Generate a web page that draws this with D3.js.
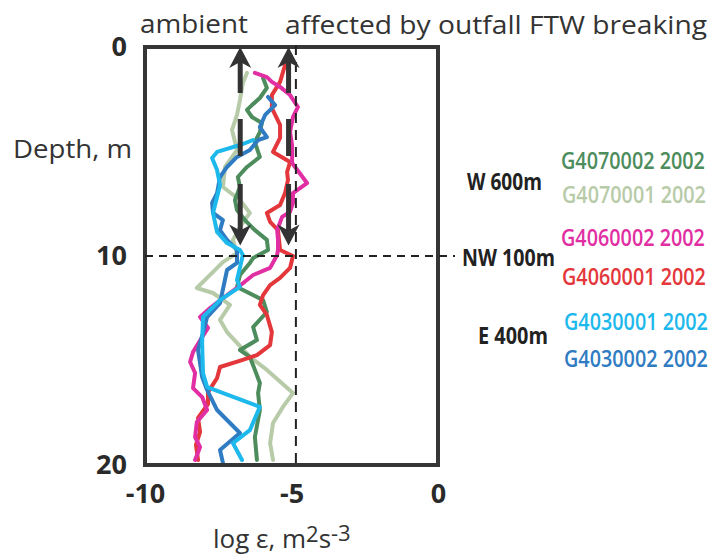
<!DOCTYPE html>
<html><head><meta charset="utf-8">
<script src="https://cdn.jsdelivr.net/npm/d3@7"></script>
<style>body{margin:0;background:#fff}svg{display:block}</style>
</head><body>
<svg id="c" width="714" height="559"></svg>
<script>
// ---- data: [depth (m), log epsilon] ----
const g4070002 = [[1.48,-5.97],[1.96,-5.84],[2.44,-6.08],[2.78,-6.35],[3.01,-6.52],[3.35,-6.35],[3.64,-6.01],[4.07,-6.08],[4.55,-6.25],[5.02,-6.14],[5.26,-6.08],[5.74,-6.52],[6.22,-6.83],[6.70,-6.76],[7.32,-6.93],[7.80,-6.86],[8.28,-6.59],[8.76,-6.25],[9.23,-5.84],[9.71,-5.80],[10.10,-6.31],[10.33,-6.42],[10.91,-6.76],[11.48,-6.86],[12.11,-5.97],[12.68,-5.84],[13.40,-6.31],[14.02,-6.18],[14.50,-6.76],[14.83,-6.42],[15.45,-6.25],[16.08,-6.08],[16.56,-6.14],[17.37,-6.08],[18.66,-6.25],[19.76,-6.18]];
const g4070001 = [[1.24,-6.52],[1.72,-6.66],[2.54,-6.76],[3.25,-6.86],[3.97,-7.03],[4.93,-6.86],[5.74,-7.27],[6.70,-7.34],[7.32,-6.76],[7.94,-6.42],[8.61,-6.76],[9.23,-7.00],[9.86,-6.86],[10.29,-7.34],[11.53,-8.23],[11.77,-7.68],[12.34,-7.10],[13.06,-7.44],[13.64,-7.20],[14.16,-6.86],[14.83,-6.42],[15.45,-5.84],[16.56,-4.95],[17.22,-5.29],[17.99,-5.63],[18.95,-5.73],[19.76,-5.63]];
const g4060002 = [[1.24,-6.25],[1.44,-5.84],[1.67,-5.67],[1.91,-5.39],[2.30,-5.05],[2.87,-4.78],[3.35,-4.95],[4.07,-5.05],[4.69,-4.98],[5.55,-4.98],[6.51,-4.47],[6.99,-4.95],[7.46,-4.95],[7.89,-5.05],[8.13,-5.32],[8.76,-5.49],[9.23,-5.46],[9.71,-5.46],[9.95,-5.49],[10.57,-5.73],[10.91,-6.31],[11.53,-6.86],[12.01,-7.34],[12.49,-7.78],[12.92,-8.12],[13.44,-7.85],[13.88,-8.05],[14.59,-8.36],[15.07,-8.46],[15.60,-8.29],[16.32,-8.36],[16.75,-8.05],[17.37,-7.88],[17.94,-8.23],[18.66,-8.29],[19.14,-8.12],[19.76,-8.29]];
const g4060001 = [[0.86,-5.22],[1.67,-5.39],[2.30,-5.67],[2.92,-5.67],[3.73,-5.39],[4.35,-5.39],[5.02,-5.63],[5.50,-5.05],[5.98,-5.15],[6.36,-5.12],[6.99,-5.22],[7.56,-5.39],[7.94,-5.84],[8.37,-5.73],[8.76,-5.46],[9.71,-5.39],[10.0,-4.95],[10.57,-5.05],[11.05,-5.39],[11.39,-5.73],[11.87,-5.97],[12.34,-6.08],[12.82,-5.84],[13.64,-5.67],[14.26,-5.73],[14.74,-6.18],[14.98,-6.69],[15.31,-7.44],[15.84,-7.54],[16.51,-7.85],[17.08,-7.85],[17.75,-8.19],[18.42,-8.12],[19.04,-8.26],[19.76,-8.19]];
const g4030001 = [[4.45,-6.31],[4.69,-6.76],[5.02,-7.54],[5.31,-7.71],[5.89,-7.54],[6.60,-7.44],[7.18,-7.54],[7.94,-7.68],[8.85,-7.54],[9.38,-7.20],[9.71,-6.76],[9.95,-6.66],[11.15,-6.86],[11.48,-6.76],[12.11,-7.44],[12.92,-8.02],[14.16,-8.05],[15.60,-8.02],[16.27,-7.88],[17.22,-6.08],[18.33,-6.42],[18.95,-7.00],[19.76,-6.69]];
const g4030002 = [[2.39,-5.80],[2.78,-5.56],[3.25,-5.90],[3.83,-6.08],[4.31,-5.84],[4.45,-6.14],[4.93,-6.42],[5.26,-6.86],[5.74,-7.20],[6.22,-7.44],[6.99,-7.54],[7.46,-7.71],[7.94,-7.68],[8.28,-7.34],[8.76,-7.44],[9.23,-7.20],[9.71,-6.86],[10.33,-6.86],[10.67,-7.20],[12.25,-7.44],[12.92,-7.88],[13.68,-8.02],[14.50,-8.19],[15.79,-8.05],[16.41,-7.88],[17.37,-7.54],[17.99,-7.10],[18.47,-6.76],[19.28,-7.44],[19.90,-7.34]];

const seriesNames = ["G4070002 2002","G4070001 2002","G4060002 2002","G4060001 2002","G4030001 2002","G4030002 2002"];
const groupLabels = ["W 600m","NW 100m","E 400m"];
const xTicks = [-10,-5,0];
const yTicks = [0,10,20];
const arrowEps = [-6.75,-5.1];     // ambient / affected
const arrowDepth = [0, 9.5];
const refEps = -4.85;              // vertical dashed line
const refDepth = 10;               // horizontal dashed line

const svg = d3.select("#c");
const FONT = "'Open Sans', 'DejaVu Sans', sans-serif";
const x = d3.scaleLinear().domain([-10,0]).range([145,438]);
const y = d3.scaleLinear().domain([0,20]).range([47,465]);

const styles = {
  "G4070002 2002": {color:"#4d8c5c", data:g4070002, lx:561, ly:169},
  "G4070001 2002": {color:"#b8cba9", data:g4070001, lx:562, ly:203},
  "G4060002 2002": {color:"#e12fa3", data:g4060002, lx:561, ly:246},
  "G4060001 2002": {color:"#e3373b", data:g4060001, lx:562, ly:285},
  "G4030001 2002": {color:"#1db8ec", data:g4030001, lx:564, ly:330},
  "G4030002 2002": {color:"#2f7cc3", data:g4030002, lx:564, ly:367}
};
const drawOrder = ["G4070001 2002","G4070002 2002","G4060001 2002","G4060002 2002","G4030002 2002","G4030001 2002"];

const line = d3.line().x(d => x(d[1])).y(d => y(d[0]));
svg.append("g").selectAll("path").data(drawOrder).join("path")
  .attr("d", n => line(styles[n].data))
  .attr("fill","none").attr("stroke", n => styles[n].color)
  .attr("stroke-width",4).attr("stroke-linejoin","round").attr("stroke-linecap","round");

// frame
svg.append("rect").attr("x",x(-10)).attr("y",y(0))
  .attr("width",x(0)-x(-10)).attr("height",y(20)-y(0))
  .attr("fill","none").attr("stroke","#363636").attr("stroke-width",4);

// dashed reference lines
svg.append("line").attr("x1",x(-10)).attr("x2",x(0)+17).attr("y1",y(refDepth)).attr("y2",y(refDepth))
  .attr("stroke","#222").attr("stroke-width",2).attr("stroke-dasharray","8,6");
svg.append("line").attr("x1",x(refEps)).attr("x2",x(refEps)).attr("y1",y(0)-2).attr("y2",y(20))
  .attr("stroke","#222").attr("stroke-width",2).attr("stroke-dasharray","10,7");

// arrows
const ag = svg.append("g");
arrowEps.forEach(v => {
  const cx = x(v), yt = y(arrowDepth[0]), yb = y(arrowDepth[1]);
  ag.append("line").attr("x1",cx).attr("x2",cx).attr("y1",yt+12).attr("y2",yb-12)
    .attr("stroke","#333").attr("stroke-width",5).attr("stroke-dasharray","34,26,37,28,80");
  ag.append("path").attr("d",`M${cx},${yt}L${cx+11},${yt+21}L${cx},${yt+15}L${cx-11},${yt+21}Z`).attr("fill","#333");
  ag.append("path").attr("d",`M${cx},${yb}L${cx+11},${yb-21}L${cx},${yb-15}L${cx-11},${yb-21}Z`).attr("fill","#333");
});

// axes
const xa = svg.append("g").attr("transform",`translate(0,${y(20)})`)
  .call(d3.axisBottom(x).tickValues(xTicks).tickSize(0).tickPadding(19).tickFormat(d => String(d)));
xa.select(".domain").remove();
xa.selectAll("text").attr("font-family",FONT).attr("font-size",27).attr("font-weight","bold").attr("fill","#2a2a2a");
const ya = svg.append("g").attr("transform",`translate(${x(-10)},0)`)
  .call(d3.axisLeft(y).tickValues(yTicks).tickSize(0).tickPadding(18).tickFormat(d => String(d)));
ya.select(".domain").remove();
ya.selectAll("text").attr("font-family",FONT).attr("font-size",27).attr("font-weight","bold").attr("fill","#2a2a2a");

// titles
const T = (t,xx,yy,size,len,opts={}) => {
  const e = svg.append("text").attr("x",xx).attr("y",yy).attr("font-family",FONT)
    .attr("font-size",size).attr("fill",opts.fill||"#333").attr("font-weight",opts.weight||"normal")
    .text(t);
  if (len) e.attr("textLength",len).attr("lengthAdjust","spacingAndGlyphs");
  return e;
};
// horizontally compressed text (condensed look) via scale transform
const S = (t,xx,yy,size,len,opts={}) => {
  const e = svg.append("text").attr("x",0).attr("y",0).attr("font-family",FONT)
    .attr("font-size",size).attr("fill",opts.fill||"#333").attr("font-weight",opts.weight||"normal")
    .text(t);
  const w = e.node().getComputedTextLength();
  e.attr("transform",`translate(${xx},${yy}) scale(${len/w},1)`);
  return e;
};
T("ambient",140,33,25,108);
T("affected by outfall FTW breaking",285,34,25,422);
T("Depth, m",13,158,26,119);

const xl = svg.append("text").attr("x",213).attr("y",548).attr("font-family",FONT).attr("font-size",26).attr("fill","#333");
xl.append("tspan").text("log ε, m");
xl.append("tspan").attr("dy",-6).attr("font-size",22).text("2");
xl.append("tspan").attr("dy",6).text("s");
xl.append("tspan").attr("dy",-7).attr("font-size",22).text("-3");

// legend
seriesNames.forEach(n => {
  const s = styles[n];
  S(n, s.lx, s.ly, 24, 144, {fill:s.color, weight:600});
});
const groupPos = {"W 600m":[467,190,75],"NW 100m":[462,266,93],"E 400m":[478,344,70]};
groupLabels.forEach(g => {
  const p = groupPos[g];
  S(g,p[0],p[1],24,p[2],{weight:"bold",fill:"#222"});
});
</script>
</body></html>
